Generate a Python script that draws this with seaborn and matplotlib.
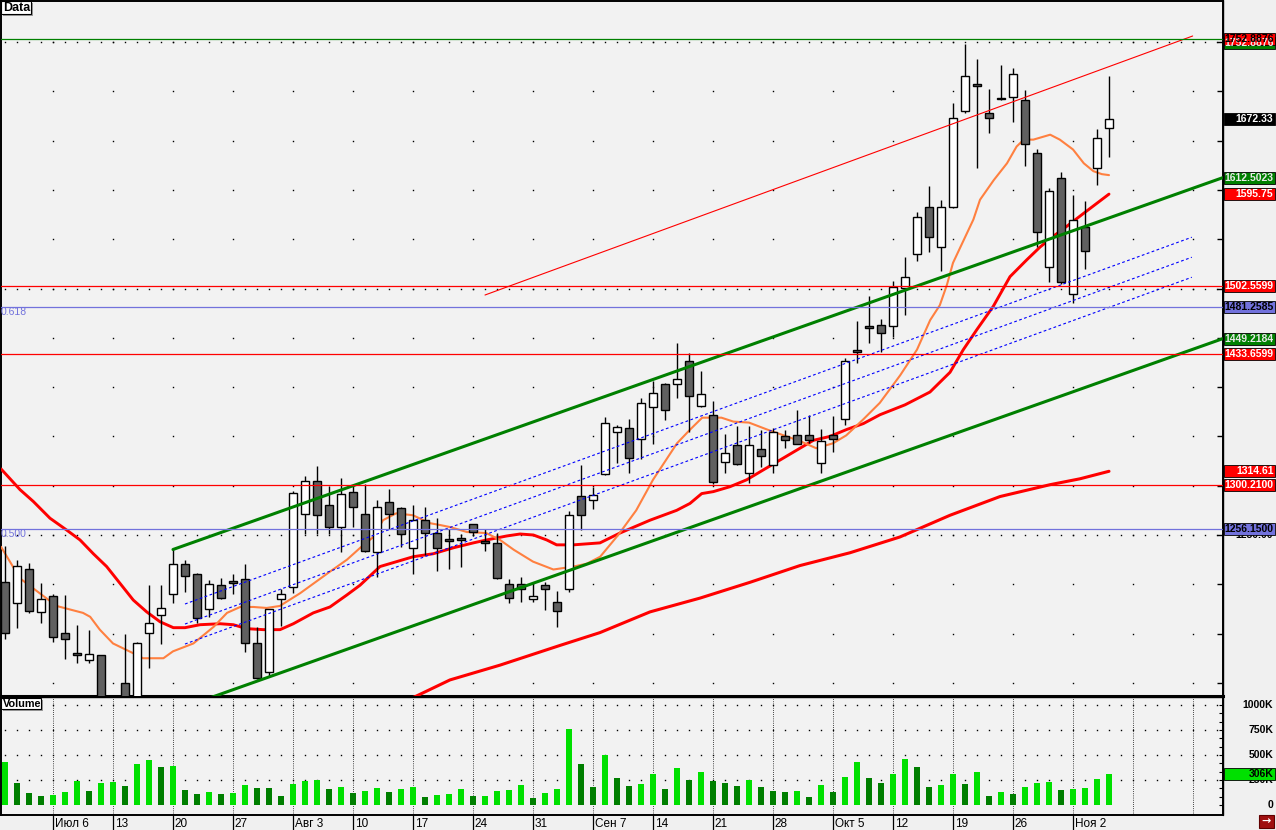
import numpy as np
import pandas as pd
import matplotlib
matplotlib.use("Agg")
import matplotlib.pyplot as plt
import matplotlib.transforms as mtransforms
from matplotlib.patches import Rectangle
import seaborn as sns

sns.set_theme(style="white")
plt.rcParams['font.family'] = ['Liberation Sans', 'DejaVu Sans']

# ---------------- data ----------------
opens = [1202.6, 1180.7, 1215.2, 1172.2, 1188.1, 1150.3, 1129.6, 1122.9, 1128.0, 1077.6,
         1099.6, 1062.4, 1150.9, 1169.2, 1189.9, 1220.3, 1210.1, 1174.9, 1199.0, 1203.0,
         1205.1, 1140.2, 1110.8, 1184.8, 1197.0, 1271.0, 1304.8, 1280.1, 1257.8, 1293.3,
         1271.0, 1232.5, 1283.2, 1277.1, 1236.5, 1264.9, 1251.7, 1245.6, 1246.7, 1260.9,
         1243.6, 1241.6, 1200.0, 1200.0, 1184.8, 1199.0, 1181.7, 1194.9, 1289.3, 1285.2,
         1311.6, 1354.2, 1358.2, 1347.1, 1380.1, 1402.8, 1402.8, 1426.8, 1380.5, 1371.4,
         1323.7, 1341.0, 1312.6, 1336.9, 1320.7, 1350.1, 1351.1, 1351.1, 1322.7, 1351.1,
         1367.3, 1437.3, 1462.0, 1463.0, 1461.7, 1500.2, 1534.7, 1582.4, 1541.8, 1582.4,
         1679.7, 1707.4, 1677.7, 1692.9, 1694.5, 1691.2, 1637.1, 1521.5, 1611.8, 1494.1,
         1562.1, 1621.9, 1662.5]
highs = [1238.8, 1224.6, 1221.3, 1201.0, 1190.0, 1189.1, 1158.7, 1153.3, 1128.5, 1084.7,
         1149.3, 1141.0, 1199.3, 1199.3, 1235.5, 1224.6, 1211.0, 1204.4, 1206.7, 1210.1,
         1220.6, 1156.4, 1175.0, 1194.9, 1294.6, 1310.1, 1320.0, 1299.7, 1307.5, 1299.7,
         1301.4, 1285.5, 1296.7, 1278.0, 1280.1, 1278.1, 1266.9, 1255.8, 1250.7, 1261.5,
         1255.8, 1251.7, 1205.1, 1207.1, 1200.0, 1202.0, 1192.9, 1274.0, 1320.7, 1298.4,
         1369.4, 1361.6, 1367.3, 1388.6, 1405.9, 1404.5, 1444.4, 1434.3, 1416.3, 1385.6,
         1352.1, 1360.2, 1360.2, 1356.2, 1358.2, 1356.2, 1376.5, 1371.4, 1357.2, 1370.4,
         1429.2, 1467.0, 1492.7, 1468.8, 1507.6, 1531.6, 1577.6, 1604.0, 1589.5, 1687.8,
         1748.0, 1732.8, 1702.3, 1727.0, 1723.3, 1701.3, 1641.5, 1601.9, 1617.9, 1595.1,
         1588.7, 1661.8, 1715.5]
lows = [1144.2, 1156.0, 1170.9, 1161.1, 1141.8, 1124.5, 1120.5, 1119.9, 1054.3, 1037.0,
        1047.2, 1054.3, 1115.4, 1139.1, 1181.3, 1192.5, 1161.1, 1166.5, 1185.0, 1189.9,
        1131.6, 1104.0, 1106.3, 1158.0, 1190.9, 1250.7, 1250.7, 1250.7, 1232.5, 1257.8,
        1233.0, 1207.7, 1256.4, 1238.1, 1210.8, 1229.4, 1213.2, 1215.2, 1217.2, 1249.0,
        1234.1, 1205.5, 1180.7, 1181.7, 1182.4, 1173.6, 1156.4, 1191.9, 1254.8, 1276.1,
        1311.0, 1322.7, 1312.6, 1327.1, 1342.0, 1366.3, 1388.6, 1354.8, 1380.0, 1301.4,
        1312.6, 1320.7, 1302.4, 1318.7, 1312.6, 1337.9, 1342.0, 1343.3, 1312.6, 1333.9,
        1361.3, 1424.1, 1444.4, 1435.6, 1451.1, 1472.8, 1527.6, 1537.3, 1517.4, 1582.0,
        1678.3, 1622.5, 1658.0, 1691.2, 1669.2, 1624.5, 1542.4, 1506.9, 1505.0, 1485.6,
        1519.5, 1605.3, 1633.7]
closes = [1150.3, 1218.9, 1172.6, 1184.8, 1146.9, 1144.8, 1129.0, 1129.0, 1062.4, 1047.2,
          1057.3, 1140.2, 1160.8, 1175.7, 1220.3, 1208.4, 1165.5, 1200.0, 1185.8, 1201.0,
          1140.2, 1104.7, 1174.6, 1189.9, 1292.3, 1304.8, 1270.0, 1257.8, 1291.3, 1278.1,
          1233.5, 1278.1, 1271.0, 1250.7, 1264.9, 1251.7, 1236.5, 1243.6, 1245.2, 1252.7,
          1241.6, 1206.1, 1185.8, 1194.9, 1187.8, 1194.9, 1172.6, 1270.0, 1270.0, 1290.3,
          1363.3, 1359.8, 1327.8, 1383.6, 1393.7, 1376.5, 1407.9, 1390.7, 1392.7, 1303.4,
          1332.9, 1321.7, 1341.0, 1329.8, 1354.2, 1346.0, 1342.0, 1346.0, 1345.0, 1347.1,
          1426.2, 1435.6, 1459.6, 1454.6, 1501.5, 1511.4, 1572.2, 1551.9, 1582.4, 1672.6,
          1715.2, 1705.7, 1673.2, 1692.0, 1717.5, 1646.3, 1557.0, 1598.6, 1506.3, 1569.5,
          1537.7, 1652.3, 1672.33]
volumes_k = [426, 225, 124, 91, 104, 134, 245, 144, 225, 235,
             191, 406, 446, 376, 386, 151, 114, 134, 114, 116,
             205, 171, 169, 91, 215, 245, 255, 161, 185, 121,
             144, 175, 134, 161, 181, 81, 104, 114, 161, 91,
             93, 144, 154, 201, 70, 124, 161, 765, 406, 181,
             497, 272, 195, 215, 315, 164, 366, 255, 326, 245,
             221, 191, 255, 185, 144, 134, 136, 84, 205, 134,
             285, 426, 275, 225, 315, 456, 376, 185, 205, 315,
             215, 326, 94, 134, 114, 185, 225, 235, 154, 164,
             175, 265, 306]

week_ticks = [4, 9, 14, 19, 24, 29, 34, 39, 44, 49, 54, 59, 64, 69, 74, 79, 84, 89]
week_labels = ["Июл 6", "13", "20", "27", "Авг 3", "10", "17", "24", "31", "Сен 7",
               "14", "21", "28", "Окт 5", "12", "19", "26", "Ноя 2"]
grid_weeks = week_ticks + [94, 99]

orange_ma_x = [-0.33, 1.25, 4.3, 6.5, 7.1, 7.9, 9.0, 10.7, 11.5, 13.2, 14.0, 15.7, 17.4, 18.5,
               19.6, 20.7, 21.8, 22.9, 24.6, 27.1, 28.5, 29.6, 30.7, 31.5, 32.6, 34.0, 35.4,
               36.3, 37.1, 38.5, 40.1, 41.25, 42.4, 44.0, 45.7, 47.4, 48.5, 49.6, 51.1, 52.6,
               54.0, 56.0, 57.1, 58.1, 59.7, 60.7, 62.0, 63.5, 64.9, 66.3, 67.6, 69.0, 70.1,
               71.5, 72.9, 74.6, 76.0, 77.1, 77.9, 78.5, 79.0, 80.7, 81.25, 82.4, 83.5, 84.3,
               84.9, 85.7, 87.1, 87.9, 89.0, 89.9, 90.7, 91.4, 92.0]
orange_ma_y = [1238, 1206, 1178, 1171, 1167, 1154, 1140, 1130, 1125, 1125, 1132, 1140, 1157, 1171,
               1177, 1177, 1176, 1178, 1191, 1213, 1225, 1237, 1248, 1265, 1272, 1270, 1262,
               1260, 1258, 1253, 1252, 1245, 1235, 1223, 1215, 1218, 1221, 1228, 1250, 1275,
               1306, 1343, 1357, 1369, 1369, 1365, 1364, 1357, 1351, 1345, 1338, 1343, 1351,
               1367, 1384, 1412, 1438, 1468, 1483, 1504, 1526, 1570, 1590, 1610, 1627, 1644,
               1651, 1651, 1656, 1651, 1641, 1627, 1619, 1616, 1615]

red_ma_x = [-0.33, 1.25, 2.36, 3.75, 5.14, 6.25, 7.36, 8.47, 9.58, 10.69, 11.81, 12.92, 14.03,
            15.0, 16.25, 17.92, 19.03, 20.14, 21.53, 22.92, 24.03, 25.69, 27.08, 28.47, 29.58,
            31.25, 32.64, 34.03, 35.69, 37.36, 39.03, 40.14, 41.81, 42.92, 44.03, 45.14, 45.97,
            47.36, 49.58, 51.25, 53.75, 55.97, 57.08, 58.06, 59.03, 60.42, 61.81, 63.19, 64.58,
            65.97, 67.36, 68.75, 70.14, 71.53, 72.92, 75.0, 77.08, 78.75, 79.86, 80.97, 82.36,
            83.75, 85.14, 86.25, 87.36, 88.47, 89.86, 92.0]
red_ma_y = [1317, 1296, 1284, 1267, 1255, 1245, 1231, 1218, 1201, 1184, 1172, 1162, 1156,
            1156, 1159, 1160, 1159, 1155, 1154, 1154, 1160, 1171, 1177, 1189, 1199,
            1218, 1223, 1228, 1231, 1237, 1242, 1245, 1249, 1251, 1250, 1245, 1240,
            1240, 1242, 1252, 1265, 1275, 1282, 1292, 1294, 1299, 1306, 1316, 1326,
            1336, 1346, 1350, 1357, 1363, 1372, 1382, 1395, 1415, 1438, 1458, 1482,
            1512, 1529, 1542, 1553, 1563, 1576, 1595.75]

slow_ma_x = [33.5, 34.17, 37.08, 41.25, 46.25, 49.58, 53.75, 57.92, 62.08, 66.25, 70.42,
             74.58, 78.75, 82.92, 87.08, 89.58, 92.0]
slow_ma_y = [1083, 1086, 1103, 1118, 1138, 1151, 1172, 1186, 1202, 1219, 1232,
             1248, 1270, 1289, 1301, 1307, 1314.61]

channel_x = [14, 101.5]
channel_upper = [1235.3, 1612.5023]
channel_lower = [1071.5, 1449.2184]
reg_x = [15, 98.9]
reg_top = [1180.0, 1552.0]
reg_mid = [1159.7, 1531.7]
reg_bot = [1139.4, 1511.4]
trend_x = [40, 98.97]
trend_y = [1493.4, 1756.1]

hlines_red = [1502.5599, 1433.6599, 1300.2100]
hline_green = 1752.8876
fib_levels = [1481.2585, 1256.1500]
fib_names = ["0.618", "0.500"]

# ---------------- figure ----------------
W, H = 1276, 830
fig = plt.figure(figsize=(W / 100, H / 100), dpi=100)
fig.patch.set_facecolor('#f0f0f0')
IDT = mtransforms.IdentityTransform()


def px_axes(x0, y0, x1, y1):
    return fig.add_axes([x0 / W, 1 - y1 / H, (x1 - x0) / W, (y1 - y0) / H])


ax = px_axes(1, 1, 1223, 696)
axv = px_axes(1, 697, 1223, 815)
XL = (-1 / 3, 101.5)
for a in (ax, axv):
    a.set_facecolor('#f2f2f2')
    for s in a.spines.values():
        s.set_color('black')
        s.set_linewidth(1.4)
ax.spines['bottom'].set_linewidth(2.2)
axv.spines['top'].set_linewidth(1.0)

n = len(closes)
idx = np.arange(n)

# grid dots (price)
ax.set_xlim(*XL)
ax.set_ylim(1086.7, 1791.6)
levels = np.arange(1100, 1800, 50)
gx, gy = np.meshgrid(grid_weeks, levels)
ax.plot(gx.ravel(), gy.ravel(), ls='none', marker='s', ms=1.0, mec='none', color='black', zorder=1)
dense_x = np.arange(0, 102)
for lv in (1250, 1500, 1750):
    ax.plot(dense_x, np.full(len(dense_x), lv), ls='none', marker='s', ms=1.0, mec='none',
            color='black', zorder=1)

# moving averages
sns.lineplot(x=slow_ma_x, y=slow_ma_y, ax=ax, color='#ff0000', lw=2.2, sort=False,
             estimator=None, zorder=3)
sns.lineplot(x=red_ma_x, y=red_ma_y, ax=ax, color='#ff0000', lw=2.1, sort=False,
             estimator=None, zorder=3)
sns.lineplot(x=orange_ma_x, y=orange_ma_y, ax=ax, color='#ff8040', lw=1.5, sort=False,
             estimator=None, zorder=3)

# candles
body_w = 0.67
for i in range(n):
    o, h, l, c = opens[i], highs[i], lows[i], closes[i]
    ax.vlines(i, l, h, color='black', lw=1.0, zorder=4)
    bottom = min(o, c)
    height = max(abs(c - o), 1.3)
    if abs(c - o) < 1.3:
        bottom = (o + c) / 2 - 0.65
    face = 'white' if c > o else '#606060'
    ax.add_patch(Rectangle((i - body_w / 2, bottom), body_w, height, facecolor=face,
                           edgecolor='black', lw=1.0, zorder=4))

# drawings
ax.plot(channel_x, channel_upper, color='#008000', lw=2.2, zorder=5)
ax.plot(channel_x, channel_lower, color='#008000', lw=2.2, zorder=5)
for yy in (reg_top, reg_mid, reg_bot):
    ax.plot(reg_x, yy, color='#0000ff', lw=0.8, ls=(0, (2.5, 2.2)), zorder=5)
ax.plot(trend_x, trend_y, color='#ff0000', lw=0.8, zorder=5)
for lv in hlines_red:
    ax.axhline(lv, color='#ff0000', lw=0.9, zorder=5)
ax.axhline(hline_green, color='#008000', lw=0.9, zorder=5)
for lv, nm in zip(fib_levels, fib_names):
    ax.axhline(lv, color='#7272dc', lw=0.9, zorder=5)
    ax.text(0.0, lv, nm, color='#7272dc', fontsize=7.5, ha='left', va='top', zorder=6,
            transform=mtransforms.blended_transform_factory(ax.transAxes, ax.transData))

ax.set_xticks([])
ax.yaxis.tick_right()
ax.set_yticks(levels)
ax.tick_params(axis='y', direction='in', length=4, width=1, color='black', labelright=False,
               right=True, left=False)
ax.set_xlabel('')
ax.set_ylabel('')

# ---------------- volume ----------------
direction = ['up' if (i == 0 or volumes_k[i] >= volumes_k[i - 1]) else 'down' for i in range(n)]
vdf = pd.DataFrame({'idx': idx, 'vol': volumes_k, 'dir': direction})
sns.barplot(data=vdf, x='idx', y='vol', hue='dir', palette={'up': '#00e000', 'down': '#007f00'},
            native_scale=True, dodge=False, width=0.55, errorbar=None, legend=False,
            saturation=1, linewidth=0, ax=axv, zorder=3)
axv.set_xlim(*XL)
axv.set_ylim(-100, 1080)
for wk in grid_weeks:
    axv.axvline(wk, color='black', lw=0.7, ls=(0, (0.7, 1.5)), zorder=1)
for lv in (250, 500, 750, 1000):
    axv.plot(dense_x, np.full(len(dense_x), lv), ls='none', marker='s', ms=1.0, mec='none',
             color='black', zorder=1)
axv.set_xlabel('')
axv.set_ylabel('')
axv.set_xticks(week_ticks)
axv.set_xticklabels([''] * len(week_ticks))
axv.tick_params(axis='x', direction='out', length=10.8, width=0.9, color='black', bottom=True)
axv.yaxis.tick_right()
axv.set_yticks(np.arange(0, 1001, 250 / 3))
axv.tick_params(axis='y', direction='in', length=3, width=0.8, color='black', labelright=False,
                right=True, left=False)
lab_tr = mtransforms.blended_transform_factory(axv.transData, axv.transAxes)
for k, lab in zip(week_ticks, week_labels):
    axv.text(k + 0.15, -0.075, lab, transform=lab_tr, ha='left', va='center', fontsize=8.5,
             color='black', clip_on=False)

# ---------------- right scale labels ----------------
fig.canvas.draw()
LBL_SIZE = 7.5


def ypix(a, val):
    return a.transData.transform((0, val))[1]


def scale_label(a, val, text, dy=0.0):
    fig.text(1273, ypix(a, val) - dy, text, transform=IDT, ha='right', va='center',
             fontsize=LBL_SIZE, fontweight='bold', color='black', zorder=10)


def value_box(a, val, text, bg, fg, dy=0.0):
    yc = ypix(a, val) - dy
    fig.add_artist(Rectangle((1224, yc - 6), 51, 12, transform=IDT, facecolor=bg,
                             edgecolor='black', lw=0.6, zorder=11))
    fig.text(1273.5, yc, text, transform=IDT, ha='right', va='center', fontsize=LBL_SIZE,
             fontweight='bold', color=fg, zorder=12)


scale_label(ax, 1250, "1250.00")
for v, t in [(1000, "1000K"), (750, "750K"), (500, "500K"), (250, "250K"), (0, "0")]:
    scale_label(axv, v, t)

value_box(ax, hline_green, "1752.8876", '#008000', '#e8e8e8', dy=4.0)
value_box(ax, trend_y[-1] - 3.2, "1752.8876", '#ff0000', 'black', dy=0)
value_box(ax, closes[-1], "1672.33", 'black', 'white')
value_box(ax, channel_upper[-1], "1612.5023", '#008000', '#e8e8e8')
value_box(ax, red_ma_y[-1], "1595.75", '#ff0000', 'white')
value_box(ax, hlines_red[0], "1502.5599", '#ff0000', 'white')
value_box(ax, fib_levels[0], "1481.2585", '#7272dc', 'black')
value_box(ax, channel_lower[-1], "1449.2184", '#008000', '#e8e8e8')
value_box(ax, hlines_red[1], "1433.6599", '#ff0000', 'white')
value_box(ax, slow_ma_y[-1], "1314.61", '#ff0000', 'white')
value_box(ax, hlines_red[2], "1300.2100", '#ff0000', 'white')
value_box(ax, fib_levels[1], "1256.1500", '#7272dc', 'black')
value_box(axv, volumes_k[-1], "306K", '#00e000', 'black')

# right axis line to the bottom
fig.add_artist(plt.Line2D([1223, 1223], [15, 830], transform=IDT, color='black', lw=1.0, zorder=9))


# panel captions
def caption(x, ytop, w, h, text, size):
    fig.add_artist(Rectangle((x + 2, H - ytop - h - 2), w, h, transform=IDT, facecolor='#9a9a9a',
                             edgecolor='none', zorder=13))
    fig.add_artist(Rectangle((x, H - ytop - h), w, h, transform=IDT, facecolor='white',
                             edgecolor='black', lw=0.8, zorder=14))
    fig.text(x + 2, H - ytop - h / 2, text, transform=IDT, ha='left', va='center',
             fontsize=size, fontweight='bold', color='black', zorder=15)


caption(1, 1, 30, 13, "Data", 9)
caption(1, 698, 40, 11, "Volume", 7.8)

# bottom-right icon
fig.add_artist(Rectangle((1259, 2), 15, 13, transform=IDT, facecolor='#a01010',
                         edgecolor='#600000', lw=0.8, zorder=14))
fig.text(1266.5, 8.5, "→", transform=IDT, ha='center', va='center', fontsize=8,
         fontweight='bold', color='white', zorder=15, family=['DejaVu Sans'])

fig.savefig("out.png", dpi=100, facecolor=fig.get_facecolor())
